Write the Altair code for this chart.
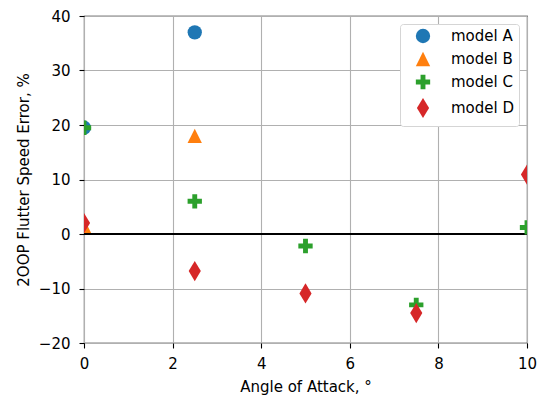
import altair as alt
import pandas as pd

models = ["model A", "model B", "model C", "model D"]
colors = ["#1f77b4", "#ff7f0e", "#2ca02c", "#d62728"]
triangle = "M0,-1L1,1L-1,1Z"
plus = "M-0.34,-1H0.34V-0.34H1V0.34H0.34V1H-0.34V0.34H-1V-0.34H-0.34Z"
thin_diamond = "M0,-1.414L0.85,0L0,1.414L-0.85,0Z"
shapes = ["circle", triangle, plus, thin_diamond]

angles_A = [0, 2.5]
errors_A = [19.5, 37.0]
angles_B = [0, 2.5]
errors_B = [1.5, 18.0]
angles_C = [0, 2.5, 5, 7.5, 10]
errors_C = [19.5, 6.0, -2.2, -13.0, 1.2]
angles_D = [0, 2.5, 5, 7.5, 10]
errors_D = [2.0, -6.8, -10.9, -14.5, 10.9]

rows = []
for m, xs, ys in [("model A", angles_A, errors_A), ("model B", angles_B, errors_B),
                  ("model C", angles_C, errors_C), ("model D", angles_D, errors_D)]:
    for x, y in zip(xs, ys):
        rows.append({"model": m, "angle": x, "error": y})
df = pd.DataFrame(rows)

font = "DejaVu Sans"
fs = 15

points = alt.Chart(df).mark_point(filled=True, opacity=1, size=205, clip=True).encode(
    x=alt.X("angle:Q", scale=alt.Scale(domain=[0, 10], nice=False),
            axis=alt.Axis(title="Angle of Attack, °", values=[0, 2, 4, 6, 8, 10])),
    y=alt.Y("error:Q", scale=alt.Scale(domain=[-20, 40], nice=False),
            axis=alt.Axis(title="2OOP Flutter Speed Error, %",
                          values=[-20, -10, 0, 10, 20, 30, 40])),
    color=alt.Color("model:N", scale=alt.Scale(domain=models, range=colors),
                    legend=alt.Legend(title=None)),
    shape=alt.Shape("model:N", scale=alt.Scale(domain=models, range=shapes),
                    legend=alt.Legend(title=None)),
)

zero = alt.Chart(pd.DataFrame({"y": [0]})).mark_rule(color="black", strokeWidth=2).encode(
    y="y:Q"
)

chart = alt.layer(zero, points).properties(
    width=443, height=327,
    padding={"left": 76, "top": 8, "right": 15, "bottom": 60},
    autosize=alt.AutoSizeParams(type="none"),
).configure_view(
    stroke="black", strokeWidth=1.1
).configure_axis(
    grid=True, gridColor="#b0b0b0", gridWidth=1.1, labelFlush=False,
    domain=False, tickColor="black", tickSize=5, tickWidth=1.1,
    labelFont=font, labelFontSize=fs, labelColor="black",
    titleFont=font, titleFontSize=fs, titleColor="black", titleFontWeight="normal",
).configure_axisX(labelPadding=8, titlePadding=8).configure_axisY(
    labelPadding=9, titlePadding=7
).configure_legend(
    orient="top-right", offset=8, labelFont=font, labelFontSize=fs, labelColor="black",
    strokeColor="#d5d5d5", fillColor="white", cornerRadius=3, padding=4,
    symbolSize=205, rowPadding=1, labelOffset=20, symbolOpacity=1, symbolOffset=11,
)

chart.save("out.html", embed_options={"renderer": "svg", "actions": False})
